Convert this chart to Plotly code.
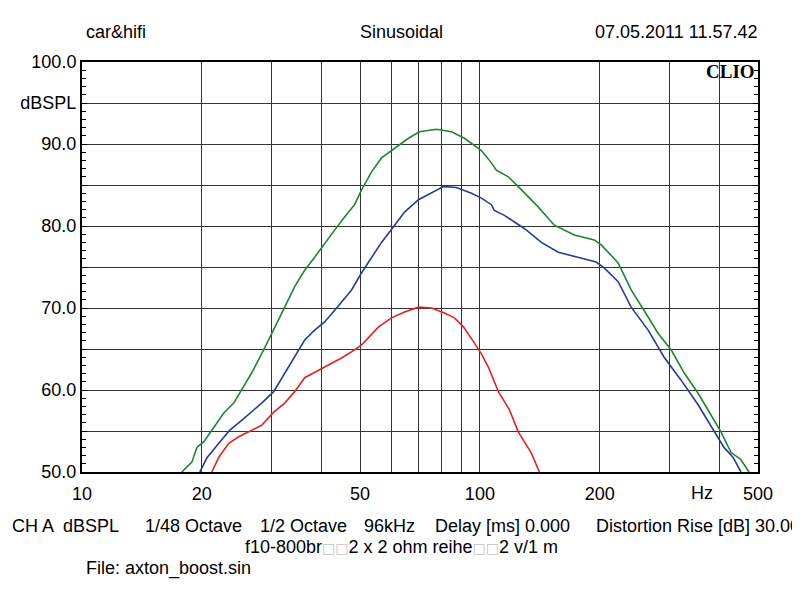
import plotly.graph_objects as go

# ---- data ----
green_f = [17.82, 18.88, 19.44, 20.24, 21.20, 22.72, 24.06, 25.20, 26.71, 28.62, 30.32, 32.32, 34.24,
           36.28, 38.44, 40.72, 43.14, 45.71, 48.43, 50.43, 53.42, 56.59, 61.01, 66.15, 70.50, 77.77,
           84.80, 91.44, 100.9, 106.9, 110.0, 117.9, 124.9, 140.3, 153.8, 172.7, 193.8, 201.8, 222.6,
           240.0, 264.8, 280.5, 302.4, 326.0, 353.5, 387.7, 403.6, 427.6, 453.1, 474.6]
green_db = [50.0, 51.2, 53.0, 53.7, 55.1, 57.2, 58.4, 60.0, 62.1, 64.9, 67.3, 70.1, 72.6,
            74.6, 76.2, 77.9, 79.5, 81.1, 82.6, 84.4, 86.6, 88.3, 89.5, 90.7, 91.5, 91.8,
            91.5, 90.7, 89.2, 87.7, 86.8, 86.0, 84.8, 82.3, 80.1, 78.9, 78.3, 77.7, 75.5,
            72.2, 68.9, 66.9, 64.9, 62.1, 59.6, 56.3, 54.9, 52.4, 51.5, 50.0]

blue_f = [19.78, 20.59, 22.07, 23.52, 25.20, 26.71, 28.29, 30.32, 32.32, 34.24, 36.28, 38.44, 40.72,
          43.64, 47.59, 50.43, 53.42, 56.59, 60.66, 64.65, 70.09, 75.55, 80.98, 87.30, 95.21, 100.9,
          106.9, 108.7, 115.2, 129.3, 142.7, 157.4, 176.7, 196.0, 205.3, 222.6, 240.0, 264.8, 290.4,
          320.4, 353.5, 387.7, 410.6, 432.6, 453.1]
blue_db = [50.0, 51.7, 53.5, 55.1, 56.3, 57.3, 58.4, 59.8, 62.1, 64.0, 66.1, 67.3, 68.3,
           70.0, 72.2, 74.3, 76.2, 78.0, 79.9, 81.7, 83.2, 84.0, 84.8, 84.7, 84.0, 83.4,
           82.6, 81.9, 81.3, 79.7, 78.0, 76.8, 76.2, 75.6, 74.9, 73.2, 70.1, 67.3, 64.0,
           61.2, 58.2, 55.1, 53.0, 51.8, 50.0]

red_f = [21.20, 22.07, 23.38, 24.77, 26.71, 28.29, 30.32, 32.32, 34.24, 36.28, 40.72, 44.92, 48.43,
         50.43, 55.65, 59.96, 64.65, 70.09, 75.55, 81.45, 86.30, 90.90, 96.32, 100.9, 105.0, 111.3,
         118.6, 124.9, 134.7, 141.1]
red_db = [50.0, 51.8, 53.5, 54.3, 55.1, 55.7, 57.3, 58.4, 59.8, 61.5, 62.8, 63.9, 64.9,
          65.5, 67.7, 68.8, 69.5, 70.1, 70.0, 69.4, 68.8, 67.7, 65.9, 64.4, 62.8, 59.8,
          57.6, 54.9, 52.3, 50.0]

x_grid_vals = [10, 20, 30, 40, 50, 60, 70, 80, 90, 100, 200, 300, 400, 500]
x_grid_text = ["10", "20", "", "", "50", "", "", "", "", "100", "200", "", "", "500"]
y_tick_vals = [50, 55, 60, 65, 70, 75, 80, 85, 90, 95, 100]
y_tick_text = ["50.0", "", "60.0", "", "70.0", "", "80.0", "", "90.0", "dBSPL", "100.0"]

# ---- layout geometry (screen pixels; page body has an 8px margin) ----
OFF = 8
W, H = 800 - OFF, 600 - OFF
L, R, T, B = 80, 758, 62, 472


def px(x):
    return (x - L) / (R - L)


def py(y):
    return (B - y) / (B - T)


FONT = "Liberation Sans, Arial, sans-serif"

fig = go.Figure()
fig.add_trace(go.Scatter(x=green_f, y=green_db, mode="lines",
                         line=dict(color="#1d8534", width=1.6), showlegend=False))
fig.add_trace(go.Scatter(x=blue_f, y=blue_db, mode="lines",
                         line=dict(color="#283c96", width=1.6), showlegend=False))
fig.add_trace(go.Scatter(x=red_f, y=red_db, mode="lines",
                         line=dict(color="#e02424", width=1.6), showlegend=False))

fig.update_xaxes(type="log", range=[1, 2.69897], tickvals=x_grid_vals, ticktext=x_grid_text,
                 showgrid=True, gridcolor="#333333", gridwidth=1, ticks="", ticklabelstandoff=4,
                 showline=True, linecolor="black", linewidth=2, mirror=True,
                 tickfont=dict(family=FONT, size=18, color="black"), zeroline=False)
fig.update_yaxes(range=[50, 100], tickvals=y_tick_vals, ticktext=y_tick_text,
                 showgrid=True, gridcolor="#333333", gridwidth=1,
                 ticks="inside", ticklen=5, tickcolor="black",
                 minor=dict(dtick=1, ticks="inside", ticklen=4, tickcolor="black", showgrid=False),
                 showline=True, linecolor="black", linewidth=2, mirror="ticks",
                 tickfont=dict(family=FONT, size=18, color="black"), zeroline=False)

ann = []


def text(x, y, s, xanchor="left", size=18, family=FONT, bold=False):
    if bold:
        s = "<b>" + s + "</b>"
    ann.append(dict(x=px(x), y=py(y), xref="paper", yref="paper", text=s, showarrow=False,
                    xanchor=xanchor, yanchor="middle", font=dict(family=family, size=size, color="black")))


text(82, 32, "car&hifi")
text(400, 32, "Sinusoidal", xanchor="center")
text(759, 32, "07.05.2011 11.57.42", xanchor="right")
text(757, 71, "CLIO", xanchor="right", size=19, family="Liberation Serif, Times New Roman, serif", bold=True)
text(702, 493, "Hz", xanchor="center")

text(OFF, 526, "CH A")
text(59, 526, "dBSPL")
text(141, 526, "1/48 Octave")
text(257, 526, "1/2 Octave")
text(361, 526, "96kHz")
text(432, 526, "Delay [ms] 0.000")
text(594, 526, "Distortion Rise [dB] 30.00")
box = ("<span style='color:#c4c4c4;font-family:DejaVu Sans;font-size:14px'>"
       "\u25a1\u25a1</span>")
text(400, 547, "f10-800br" + box + "2 x 2 ohm reihe" + box + "2 v/1 m", xanchor="center")
text(82, 568, "File: axton_boost.sin")

fig.update_layout(width=W, height=H,
                  margin=dict(l=L - OFF, r=800 - R, t=T - OFF, b=600 - B, pad=0),
                  paper_bgcolor="white", plot_bgcolor="white", annotations=ann,
                  font=dict(family=FONT, size=18, color="black"))

fig.write_html("out.html")
